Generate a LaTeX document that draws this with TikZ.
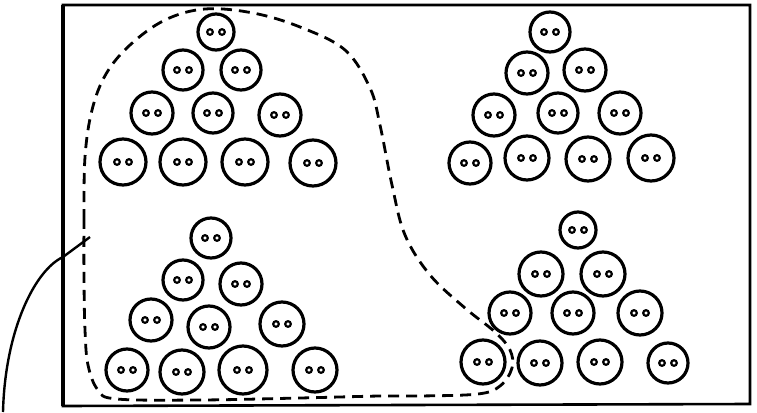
\documentclass[tikz,border=0pt]{standalone}
\begin{document}
\begin{tikzpicture}[x=1pt,y=-1pt,
  cellbody/.style={circle,draw,line width=3.2pt,inner sep=0pt},
  nuc/.style={line width=2.2pt},
  frame/.style={line width=2.6pt},
  region/.style={line width=2.8pt,dash pattern=on 11pt off 7pt},
  leader/.style={line width=2.4pt}]
\useasboundingbox (0,0) rectangle (757,412);
\newcommand{\mycell}[4]{%
  \node[cellbody,minimum size=#4*2pt] (#1) at (#2,#3) {};
  \draw[nuc] (#1.center) ++(-6,0) circle (2.8);
  \draw[nuc] (#1.center) ++(6,0) circle (2.8);}
% frame
\coordinate (f1) at (63,5);
\coordinate (f2) at (750,5);
\coordinate (f3) at (750,404);
\coordinate (f4) at (63,406);
\draw[frame] (f1) -- (f2) -- (f3) -- (f4) -- cycle;
\draw[line width=3.6pt] (f1) -- (f4);
% top-left group
\mycell{a1}{216}{32}{18}
\mycell{a2}{183}{70}{20}
\mycell{a3}{241}{70}{20}
\mycell{a4}{152}{113}{21}
\mycell{a5}{213}{113}{20}
\mycell{a6}{280}{115}{21}
\mycell{a7}{123}{162}{23}
\mycell{a8}{183}{162}{23}
\mycell{a9}{245}{162}{23}
\mycell{a10}{313}{163}{23}
% top-right group
\mycell{b1}{550}{32}{20}
\mycell{b2}{527}{73}{21}
\mycell{b3}{585}{70}{21}
\mycell{b4}{494}{115}{21}
\mycell{b5}{558}{113}{20}
\mycell{b6}{620}{113}{21}
\mycell{b7}{470}{163}{21}
\mycell{b8}{527}{158}{22}
\mycell{b9}{588}{159}{22}
\mycell{b10}{651}{158}{23}
% bottom-left group
\mycell{c1}{211}{238}{20}
\mycell{c2}{183}{280}{20}
\mycell{c3}{241}{284}{21}
\mycell{c4}{151}{320}{21}
\mycell{c5}{209}{327}{21}
\mycell{c6}{282}{324}{22}
\mycell{c7}{127}{370}{21}
\mycell{c8}{182}{372}{22}
\mycell{c9}{243}{370}{24}
\mycell{c10}{315}{370}{22}
% bottom-right group
\mycell{d1}{578}{230}{18}
\mycell{d2}{541}{274}{22}
\mycell{d3}{603}{274}{22}
\mycell{d4}{510}{313}{21}
\mycell{d5}{573}{313}{21}
\mycell{d6}{640}{313}{22}
\mycell{d7}{483}{362}{22}
\mycell{d8}{540}{363}{22}
\mycell{d9}{600}{362}{22}
\mycell{d10}{668}{363}{20}
% dashed region
\draw[region] plot[smooth cycle,tension=0.6] coordinates {
  (84,280) (84,220) (85,157) (92,110) (106,74) (130,45) (165,20)
  (205,9) (253,13) (300,27) (345,50) (370,88) (380,125) (392,185)
  (405,235) (430,275) (465,308) (495,332) (510,350) (512,368)
  (500,386) (478,394) (420,396) (380,396) (300,398) (200,400)
  (117,399) (98,390) (88,365) (85,330)};
% leader line
\coordinate (l0) at (3,412);
\coordinate (l1) at (90,237);
\draw[leader] (l0) .. controls (5,330) and (35,270) .. (63,257) -- (l1);
\end{tikzpicture}
\end{document}
